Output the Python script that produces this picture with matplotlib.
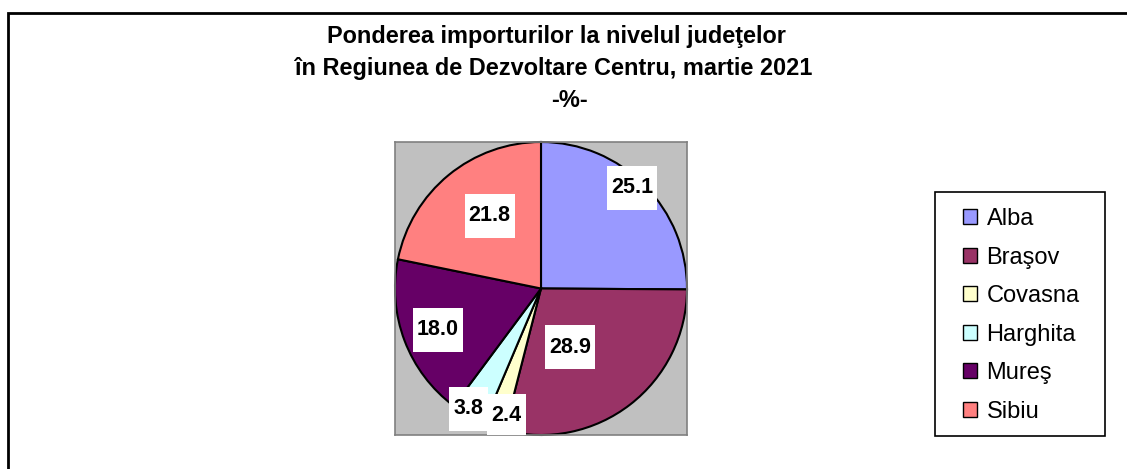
import numpy as np
import matplotlib.pyplot as plt
from matplotlib.patches import Rectangle

# ---------------- data ----------------
counties = ["Alba", "Braşov", "Covasna", "Harghita", "Mureş", "Sibiu"]
shares = [25.1, 28.9, 2.4, 3.8, 18.0, 21.8]
colors = ["#9999FF", "#993366", "#FFFFCC", "#CCFFFF", "#660066", "#FF8080"]
title_lines = ["Ponderea importurilor la nivelul judeţelor",
               "în Regiunea de Dezvoltare Centru, martie 2021",
               "-%-"]

# label placement (radius fraction, angle tweak in deg) - roughly as in the source
lab_r = [0.93, 0.45, 0.90, 0.96, 0.76, 0.61]
lab_da = [3.0, -11.0, 3.5, -1.5, 1.0, -4.0]

plt.rcParams["font.family"] = ["Liberation Sans", "DejaVu Sans"]

fig = plt.figure(figsize=(11.27, 4.69), dpi=100)
W, H = 1127, 469

# outer frame (cut by the image on right/bottom)
fig.patches.append(Rectangle((8 / W, -0.1), 1.2, 1 - 13 / H + 0.1, transform=fig.transFigure,
                             fill=False, ec="black", lw=2.0))

# title (baselines in px from top)
title_x = [556, 554, 570]
title_base = [43, 75, 107]
for line, tx, ty in zip(title_lines, title_x, title_base):
    fig.text(tx / W, 1 - ty / H, line, ha="center", va="baseline",
             fontsize=16.9, fontweight="bold")

# pie plot area
AXW, AXH = 292, 293
ax = fig.add_axes([395 / W, 1 - 435 / H, AXW / W, AXH / H])
wedges, _ = ax.pie(shares, colors=colors, startangle=90, counterclock=False,
                   radius=1.0, wedgeprops=dict(edgecolor="black", linewidth=1.5))
ax.set_frame_on(True)
ax.set_facecolor("#C0C0C0")
for s in ax.spines.values():
    s.set_visible(True)
    s.set_edgecolor("#808080")
    s.set_linewidth(1.2)
ax.set_xlim(-1.0, 1.0)
ax.set_ylim(-1.0, 1.0)
ax.set_aspect("auto")
ax.set_xticks([])
ax.set_yticks([])

# white label boxes sized to the text (~11 px per char + margin, 44 px tall)
cum = np.cumsum([0] + shares)
for k, v in enumerate(shares):
    txt = f"{v:.1f}"
    bw = (11 * len(txt) + 6) / AXW * 2
    bh = 44 / AXH * 2
    mid = 90 - (cum[k] + v / 2) * 3.6 + lab_da[k]
    x = lab_r[k] * np.cos(np.radians(mid))
    y = lab_r[k] * np.sin(np.radians(mid))
    ax.add_patch(Rectangle((x - bw / 2, y - bh / 2), bw, bh, fc="white", ec="none", zorder=5))
    ax.text(x, y, txt, ha="center", va="center", fontsize=15.5, fontweight="bold",
            zorder=6)

# legend: own frame, entries without frame inside it
fig.patches.append(Rectangle((935 / W, 1 - 436 / H), 170 / W, 244 / H,
                             transform=fig.transFigure, fc="white", ec="black", lw=1.2))
leg = fig.legend(wedges, counties, loc="upper left",
                 bbox_to_anchor=(963 / W, 1 - 208 / H), fontsize=17,
                 frameon=False, handlelength=0.6, handleheight=0.6, handletextpad=0.4,
                 labelspacing=0.70, borderpad=0, borderaxespad=0)
for h in leg.legend_handles:
    h.set_linewidth(1.0)

fig.savefig("out.png", dpi=100)
